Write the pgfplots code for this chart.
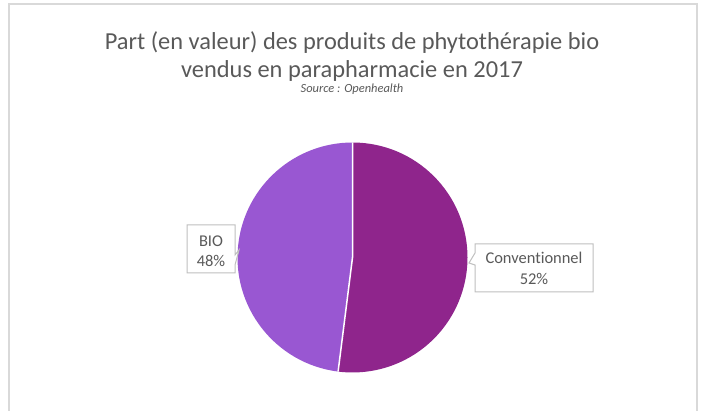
\documentclass[border=0pt]{standalone}
\usepackage{pgfplots}
\pgfplotsset{compat=1.18}
\usepackage{pgfplotstable}
\usepackage{fontspec}
\setmainfont{Carlito}[Ligatures=NoCommon]
\definecolor{conv}{RGB}{143,37,140}
\definecolor{bio}{RGB}{153,87,210}
\definecolor{txt}{RGB}{89,89,89}
\definecolor{framec}{RGB}{217,217,217}
\definecolor{boxb}{RGB}{191,191,191}

\pgfplotstableread{
name value
Conventionnel 52
BIO 48
}\piedata
\pgfplotstablegetelem{0}{value}\of\piedata
\pgfmathsetmacro\vA{\pgfplotsretval}
\pgfplotstablegetelem{1}{value}\of\piedata
\pgfmathsetmacro\vB{\pgfplotsretval}
\pgfmathsetmacro\fracA{\vA/(\vA+\vB)}
\pgfmathsetmacro\angA{90-\fracA*360}

\begin{document}
\begin{tikzpicture}
\useasboundingbox (0bp,0bp) rectangle (704bp,411bp);
\draw[framec, line width=1.3bp] (9bp,-10bp) -- (9bp,407bp) -- (697bp,407bp) -- (697bp,-10bp);
\node[anchor=base, text=txt, font=\fontsize{24.5}{29}\selectfont, inner sep=0pt] at (352bp,361bp) {Part (en valeur) des produits de phytothérapie bio};
\node[anchor=base, text=txt, font=\fontsize{24.5}{29}\selectfont, inner sep=0pt] at (352bp,333bp) {vendus en parapharmacie en 2017};
\node[anchor=base, text=txt, font=\fontsize{12.5}{15}\selectfont\itshape, inner sep=0pt] at (352bp,318.5bp) {Source : Openhealth};
\begin{axis}[at={(352.5bp,153.5bp)}, anchor=origin, scale only axis,
  width=230bp, height=230bp, xmin=-1, xmax=1, ymin=-1, ymax=1,
  hide axis, clip=false]
\fill[conv] (axis cs:0,0) -- (axis cs:0,1) arc[start angle=90, end angle=\angA, radius=115bp] -- cycle;
\fill[bio] (axis cs:0,0) -- (axis cs:{cos(\angA)},{sin(\angA)}) arc[start angle=\angA, end angle=-270, radius=115bp] -- cycle;
\draw[white, line width=1.5bp] (axis cs:0,1) -- (axis cs:0,0) -- (axis cs:{cos(\angA)},{sin(\angA)});
\end{axis}
% callouts
\draw[boxb, fill=white, line width=1bp] (187bp,186bp) -- (235bp,186bp) -- (235bp,156bp) -- (239bp,161bp) -- (235bp,146bp) -- (235bp,138bp) -- (187bp,138bp) -- cycle;
\node[anchor=base, text=txt, font=\fontsize{16.5}{20}\selectfont, inner sep=0pt] at (211bp,164.3bp) {BIO};
\node[anchor=base, text=txt, font=\fontsize{16.5}{20}\selectfont, inner sep=0pt] at (211bp,144.3bp) {48\%};
\draw[boxb, fill=white, line width=1bp] (475bp,167bp) -- (593bp,167bp) -- (593bp,119bp) -- (475bp,119bp) -- (475bp,146bp) -- (469bp,148bp) -- (475bp,158bp) -- cycle;
\node[anchor=base, text=txt, font=\fontsize{16.5}{20}\selectfont, inner sep=0pt] at (534bp,147.7bp) {Conventionnel};
\node[anchor=base, text=txt, font=\fontsize{16.5}{20}\selectfont, inner sep=0pt] at (534bp,126bp) {52\%};
\end{tikzpicture}
\end{document}
